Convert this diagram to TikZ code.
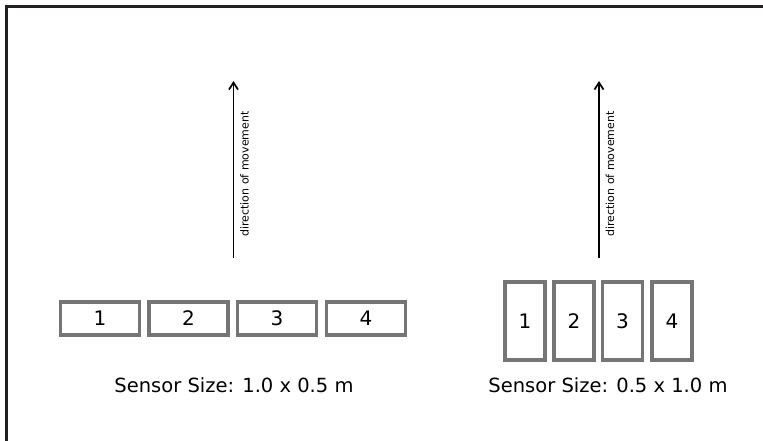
\documentclass[tikz,border=0pt]{standalone}
\usepackage{fontspec}
\setmainfont{DejaVu Sans}
\usetikzlibrary{arrows.meta}
\definecolor{boxgray}{HTML}{757575}
\definecolor{framegray}{HTML}{231F20}
\begin{document}
\begin{tikzpicture}[x=1pt, y=-1pt,
	cell/.style={rectangle, draw=boxgray, line width=3.8pt, inner sep=0pt, font=\fontsize{20}{24}\selectfont},
	wide/.style={cell, minimum width=79pt, minimum height=33pt},
	tall/.style={cell, minimum width=40pt, minimum height=78pt},
	move/.style={-{Straight Barb[length=7pt, width=9pt]}, line width=1.7pt},
	caption/.style={font=\fontsize{19.5}{23}\selectfont},
	dirlabel/.style={rotate=90, anchor=north, inner sep=1pt, yshift=-5pt, font=\fontsize{11}{13}\selectfont}]
	\useasboundingbox (0,0) rectangle (763,440);
	\clip (0,0) rectangle (763,440);
	\draw[framegray, line width=2.5pt] (6.5,6.5) rectangle (800,480);

	\node[wide] (a1) at (100,318.5) {1};
	\node[wide] (a2) at (188.5,318.5) {2};
	\node[wide] (a3) at (277,318.5) {3};
	\node[wide] (a4) at (366,318.5) {4};

	\node[tall] (b1) at (525,321) {1};
	\node[tall] (b2) at (574,321) {2};
	\node[tall] (b3) at (622.5,321) {3};
	\node[tall] (b4) at (672,321) {4};

	\node[caption] (capa) at (234,385) {Sensor Size: 1.0 x 0.5 m};
	\node[caption] (capb) at (608,385) {Sensor Size: 0.5 x 1.0 m};

	\coordinate (sa) at (233.5,258);
	\coordinate (ta) at (233.5,81);
	\coordinate (sb) at (599,258);
	\coordinate (tb) at (599,81);

	\draw[move] (sa) -- (ta) node[pos=0.475, dirlabel] (la) {direction of movement};
	\draw[move] (sb) -- (tb) node[pos=0.475, dirlabel] (lb) {direction of movement};
\end{tikzpicture}
\end{document}
